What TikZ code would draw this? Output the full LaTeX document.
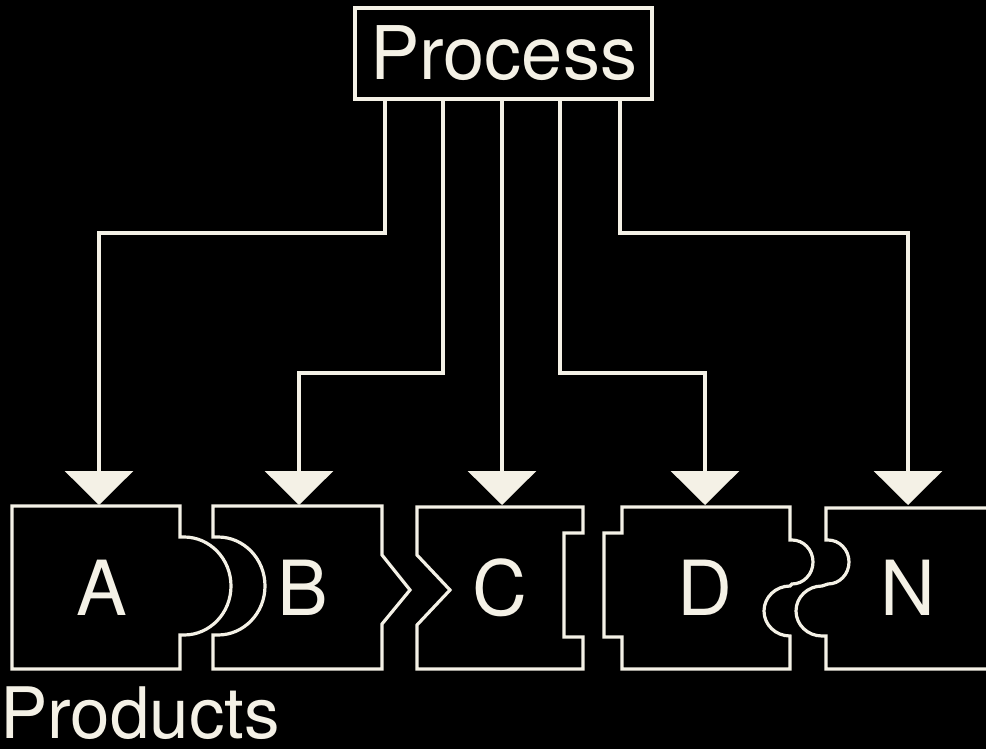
\documentclass[tikz,border=0pt]{standalone}
\usepackage{fontspec}
\setmainfont{TeX Gyre Heros}
\usetikzlibrary{arrows.meta}
\definecolor{ink}{HTML}{F4F1E6}
\begin{document}
\begin{tikzpicture}[x=1pt,y=-1pt,
  wline/.style={draw=ink,line width=3.2pt,line join=miter},
  conn/.style={draw=ink,line width=3.2pt,-{Triangle[width=68pt,length=34pt]}},
  letter/.style={text=ink,font=\fontsize{76}{80}\selectfont,inner sep=0pt,anchor=base}]
\useasboundingbox (0,0) rectangle (986,749);
\fill[black] (0,0) rectangle (986,749);
\clip (0,0) rectangle (986,749);
% process box
\node[wline,text=ink,minimum width=297pt,minimum height=91pt,inner sep=0pt,
  font=\fontsize{74}{80}\selectfont] (proc) at (503.5,53.5) {Process};
% connector start and level coordinates
\coordinate (s1) at (385,100);
\coordinate (s2) at (443,100);
\coordinate (s3) at (502,100);
\coordinate (s4) at (560,100);
\coordinate (s5) at (620,100);
\coordinate (h1) at (0,233);
\coordinate (h2) at (0,373);
\coordinate (tA) at (99,505);
\coordinate (tB) at (299,505);
\coordinate (tC) at (502,505);
\coordinate (tD) at (705,505);
\coordinate (tN) at (908,505);
% pieces
\path[wline] (12,506) -- (180,506) -- (180,537) -- (184,537)
  arc[start angle=-90,end angle=90,x radius=47,y radius=49]
  -- (180,635) -- (180,669) -- (12,669) -- cycle;
\path[wline] (213,506) -- (382,506) -- (382,555) -- (410,590) -- (382,624)
  -- (382,669) -- (213,669) -- (213,635) -- (218,635)
  arc[start angle=90,end angle=-90,x radius=47,y radius=49]
  -- (213,537) -- cycle;
\path[wline] (417,507) -- (583,507) -- (583,533) -- (564,533) -- (564,637)
  -- (583,637) -- (583,669) -- (417,669) -- (417,625) -- (450,590)
  -- (417,555) -- cycle;
\path[wline] (622,507) -- (790,507) -- (790,540) -- (792,540)
  arc[start angle=-90,end angle=90,x radius=21,y radius=22]
  -- (790,586) arc[start angle=-90,end angle=-270,x radius=26,y radius=25]
  -- (790,669) -- (622,669) -- (622,637) -- (604,637) -- (604,533)
  -- (622,533) -- cycle;
\path[wline] (995,508) -- (826,508) -- (826,540) -- (828,540)
  arc[start angle=-90,end angle=90,x radius=21,y radius=22]
  -- (822,586) arc[start angle=-90,end angle=-270,x radius=26,y radius=25]
  -- (826,636) -- (826,669) -- (995,669);
% letters
\node[letter] (A) at (102,615) {A};
\node[letter] (B) at (303,615) {B};
\node[letter] (C) at (500,615) {C};
\node[letter] (D) at (705,615) {D};
\node[letter] (N) at (908,615) {N};
% connectors
\draw[conn] (s1) -- (s1 |- h1) -| (tA);
\draw[conn] (s2) -- (s2 |- h2) -| (tB);
\draw[conn] (s3) -- (tC);
\draw[conn] (s4) -- (s4 |- h2) -| (tD);
\draw[conn] (s5) -- (s5 |- h1) -| (tN);
% caption
\node[text=ink,font=\fontsize{71}{76}\selectfont,inner sep=0pt,anchor=base west]
  (prod) at (0,738) {Products};
\end{tikzpicture}
\end{document}
